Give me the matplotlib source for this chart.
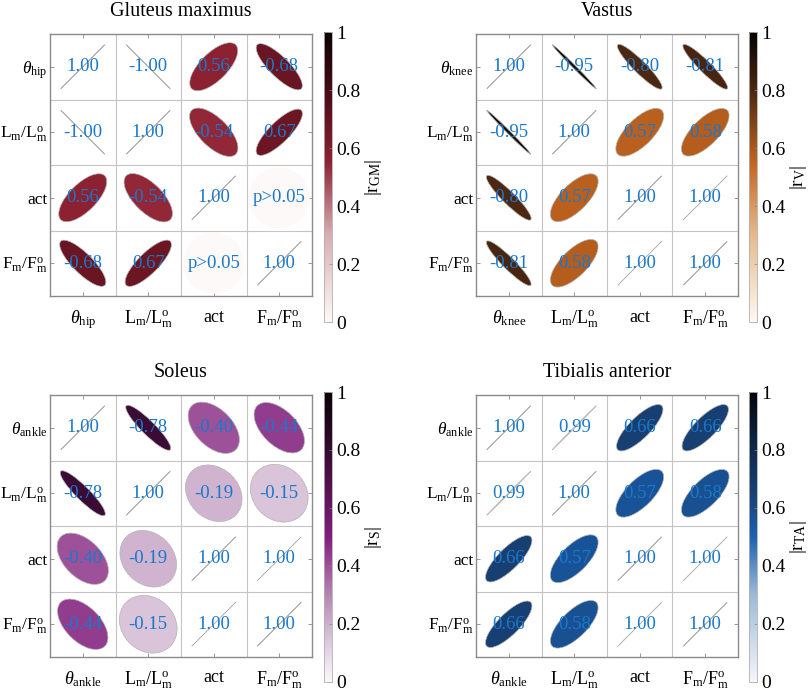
import numpy as np
import matplotlib
matplotlib.use("Agg")
import matplotlib.pyplot as plt
from matplotlib.patches import Ellipse
from matplotlib.colors import LinearSegmentedColormap

plt.rcParams['font.family'] = ['Liberation Serif', 'DejaVu Serif']
plt.rcParams['mathtext.fontset'] = 'custom'
plt.rcParams['mathtext.rm'] = 'Liberation Serif'
plt.rcParams['mathtext.it'] = 'Liberation Serif:italic'

# ---- data ----
nan = np.nan
r_gm = [[1.00, -1.00, 0.56, -0.68],
        [-1.00, 1.00, -0.54, 0.67],
        [0.56, -0.54, 1.00, nan],
        [-0.68, 0.67, nan, 1.00]]
r_v = [[1.00, -0.95, -0.80, -0.81],
       [-0.95, 1.00, 0.57, 0.58],
       [-0.80, 0.57, 1.00, 1.00],
       [-0.81, 0.58, 1.00, 1.00]]
r_s = [[1.00, -0.78, -0.40, -0.44],
       [-0.78, 1.00, -0.19, -0.15],
       [-0.40, -0.19, 1.00, 1.00],
       [-0.44, -0.15, 1.00, 1.00]]
r_ta = [[1.00, 0.99, 0.66, 0.66],
        [0.99, 1.00, 0.57, 0.58],
        [0.66, 0.57, 1.00, 1.00],
        [0.66, 0.58, 1.00, 1.00]]

titles = ['Gluteus maximus', 'Vastus', 'Soleus', 'Tibialis anterior']
joints = ['hip', 'knee', 'ankle', 'ankle']
cb_labels = [r'|r$_{\rm GM}$|', r'|r$_{\rm V}$|', r'|r$_{\rm S}$|', r'|r$_{\rm TA}$|']

cmaps = [
    LinearSegmentedColormap.from_list('gm', [(0, '#fdf9f8'), (0.3, '#d8aeb2'), (0.55, '#8e2232'),
                                             (0.78, '#4e0c17'), (1, '#0a0203')]),
    LinearSegmentedColormap.from_list('v', [(0, '#fdf9f2'), (0.3, '#e6b98c'), (0.55, '#c2651f'),
                                            (0.8, '#4c2711'), (1, '#050201')]),
    LinearSegmentedColormap.from_list('s', [(0, '#fbf8fb'), (0.15, '#d9c4d9'), (0.3, '#b585b2'),
                                            (0.5, '#821c7e'), (0.78, '#3a0b34'), (1, '#080207')]),
    LinearSegmentedColormap.from_list('ta', [(0, '#f4f6f9'), (0.3, '#9dbad8'), (0.5, '#1a62b2'),
                                             (0.66, '#183f72'), (0.85, '#0c2240'), (1, '#020509')]),
]

data = [r_gm, r_v, r_s, r_ta]

W, H = 809, 691
fig = plt.figure(figsize=(W / 100, H / 100), dpi=100)

ax_pos = [(50, 34), (476, 34), (50, 395), (476, 395)]   # left, top in pixels
cb_pos = [(324, 32), (749, 32), (324, 392), (749, 392)]
size = 262
txt_blue = '#1a78cc'

for k in range(4):
    x0, y0 = ax_pos[k]
    ax = fig.add_axes([x0 / W, 1 - (y0 + size) / H, size / W, size / H])
    cmap = cmaps[k]
    r = np.array(data[k], dtype=float)
    for i in range(4):
        for j in range(4):
            v = r[i, j]
            cx, cy = j + 0.5, i + 0.5
            if np.isnan(v):
                ax.add_patch(Ellipse((cx, cy), 0.93, 0.93, facecolor=cmap(0.0),
                                     edgecolor='none', zorder=2))
                lab = 'p>0.05'
            else:
                a = abs(v)
                ang = -45 if v > 0 else 45
                ax.add_patch(Ellipse((cx, cy), 0.95, 0.95 * (1 - a), angle=ang,
                                     facecolor=cmap(a), edgecolor='#b4b4b4',
                                     linewidth=0.5, zorder=2))
                lab = f'{v:.2f}'
            ax.text(cx, cy, lab, color=txt_blue, fontsize=13.5,
                    ha='center', va='center', zorder=3)

    for g in [1, 2, 3]:
        ax.axvline(g, color='#c4c4c4', lw=0.8, zorder=1)
        ax.axhline(g, color='#c4c4c4', lw=0.8, zorder=1)

    ax.set_xlim(0, 4)
    ax.set_ylim(4, 0)
    labels = [r'$\theta_{\rm %s}$' % joints[k], r'L$_{\rm m}$/L$_{\rm m}^{\rm o}$',
              'act', r'F$_{\rm m}$/F$_{\rm m}^{\rm o}$']
    ax.set_xticks(np.arange(4) + 0.5)
    ax.set_yticks(np.arange(4) + 0.5)
    ax.set_xticklabels(labels, fontsize=13)
    ax.set_yticklabels(labels, fontsize=12.5)
    ax.tick_params(direction='in', length=3, width=0.6, color='#888888',
                   top=True, right=True)
    ax.tick_params(axis='x', pad=9)
    ax.tick_params(axis='y', pad=2)
    for sp in ax.spines.values():
        sp.set_color('#8a8a8a')
        sp.set_linewidth(1.0)
    ax.set_title(titles[k], fontsize=14.5, pad=13)

    cx0, cy0 = cb_pos[k]
    cax = fig.add_axes([cx0 / W, 1 - (cy0 + 290) / H, 8 / W, 290 / H])
    sm = plt.cm.ScalarMappable(cmap=cmap, norm=plt.Normalize(0, 1))
    cb = fig.colorbar(sm, cax=cax, ticks=[0, 0.2, 0.4, 0.6, 0.8, 1])
    cb.ax.set_yticklabels(['0', '0.2', '0.4', '0.6', '0.8', '1'], fontsize=14)
    cb.ax.tick_params(direction='in', length=2, width=0.5, color='#888888', pad=3)
    cb.outline.set_edgecolor('#b0b0b0')
    cb.outline.set_linewidth(0.6)
    cb.set_label(cb_labels[k], fontsize=14, labelpad=2)

fig.savefig('out.png', dpi=100)
